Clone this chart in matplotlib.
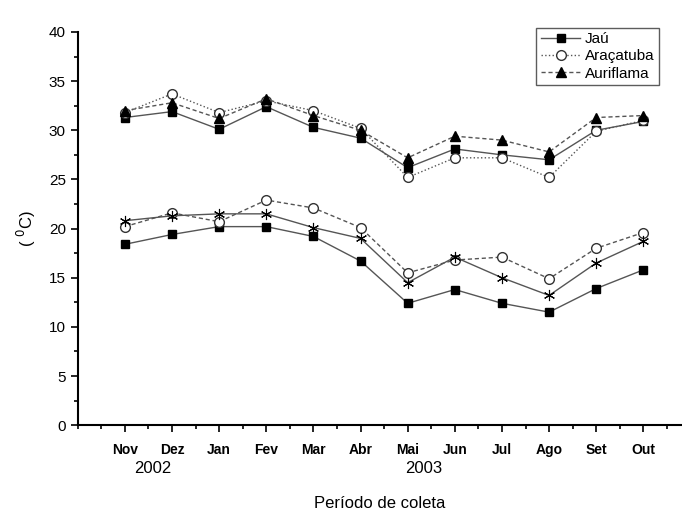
import numpy as np
import matplotlib.pyplot as plt
from matplotlib.ticker import MultipleLocator

plt.rcParams['font.family'] = ['Liberation Sans', 'DejaVu Sans']

meses = ['Nov', 'Dez', 'Jan', 'Fev', 'Mar', 'Abr', 'Mai', 'Jun', 'Jul', 'Ago', 'Set', 'Out']

# temperaturas maximas
jau_max = [31.3, 31.9, 30.1, 32.4, 30.3, 29.2, 26.2, 28.1, 27.5, 27.0, 30.0, 30.9]
aracatuba_max = [31.8, 33.7, 31.8, 33.0, 32.0, 30.2, 25.2, 27.2, 27.2, 25.2, 29.9, 31.0]
auriflama_max = [32.0, 32.8, 31.2, 33.2, 31.5, 30.0, 27.2, 29.4, 29.0, 27.8, 31.3, 31.5]

# temperaturas minimas
jau_min = [18.4, 19.4, 20.2, 20.2, 19.2, 16.7, 12.4, 13.8, 12.4, 11.5, 13.9, 15.8]
aracatuba_min = [20.2, 21.6, 20.7, 22.9, 22.1, 20.1, 15.5, 16.8, 17.1, 14.9, 18.0, 19.6]
auriflama_min = [20.8, 21.3, 21.5, 21.5, 20.1, 19.0, 14.5, 17.1, 15.0, 13.2, 16.5, 18.7]

x = np.arange(1, len(meses) + 1)
cor = '#555555'

fig = plt.figure(figsize=(6.82, 5.16), dpi=100)
ax = fig.add_axes([0.114, 0.176, 0.886, 0.762])

ax.plot(x, jau_max, '-', color=cor, lw=1, marker='s', ms=6, mfc='black', mec='black', label='Jaú')
ax.plot(x, aracatuba_max, ':', color=cor, lw=1, marker='o', ms=7, mfc='white', mec='#333333', label='Araçatuba')
ax.plot(x, auriflama_max, '--', color=cor, lw=1, dashes=(3, 2), marker='^', ms=7, mfc='black', mec='black', label='Auriflama')

ax.plot(x, jau_min, '-', color=cor, lw=1, marker='s', ms=6, mfc='black', mec='black')
ax.plot(x, aracatuba_min, '--', color=cor, lw=1, dashes=(3, 2), marker='o', ms=7, mfc='white', mec='#333333')
ax.plot(x, auriflama_min, '-', color=cor, lw=1, marker=(6, 2, 0), ms=8, mec='black', mew=0.8)

ax.set_xlim(0, 12.82)
ax.set_ylim(0, 40)
ax.set_xticks(x)
ax.set_xticklabels(meses, fontsize=10, fontweight='semibold')
ax.xaxis.set_minor_locator(MultipleLocator(0.5))
ax.yaxis.set_major_locator(MultipleLocator(5))
ax.yaxis.set_minor_locator(MultipleLocator(2.5))
ax.tick_params(axis='both', which='major', direction='out', length=5, width=1.2, labelsize=11)
ax.tick_params(axis='x', which='major', labelsize=10, pad=8)
ax.tick_params(axis='both', which='minor', direction='out', length=3, width=1.2)

for s in ['top', 'right']:
    ax.spines[s].set_visible(False)
for s in ['left', 'bottom']:
    ax.spines[s].set_linewidth(1.5)

ax.set_ylabel('( $^0$C)', fontsize=12, labelpad=8)
ax.set_xlabel('Período de coleta', fontsize=12, labelpad=28)
ax.text(1.6, -4.4, '2002', fontsize=12, ha='center', va='center')
ax.text(7.35, -4.4, '2003', fontsize=12, ha='center', va='center')

leg = ax.legend(loc='upper right', bbox_to_anchor=(0.975, 1.03), fontsize=11, frameon=True,
                fancybox=False, edgecolor='#333333', handlelength=2.6, borderpad=0.3,
                labelspacing=0.2, handletextpad=0.3)
leg.get_frame().set_linewidth(1)

fig.savefig('out.png', dpi=100)
